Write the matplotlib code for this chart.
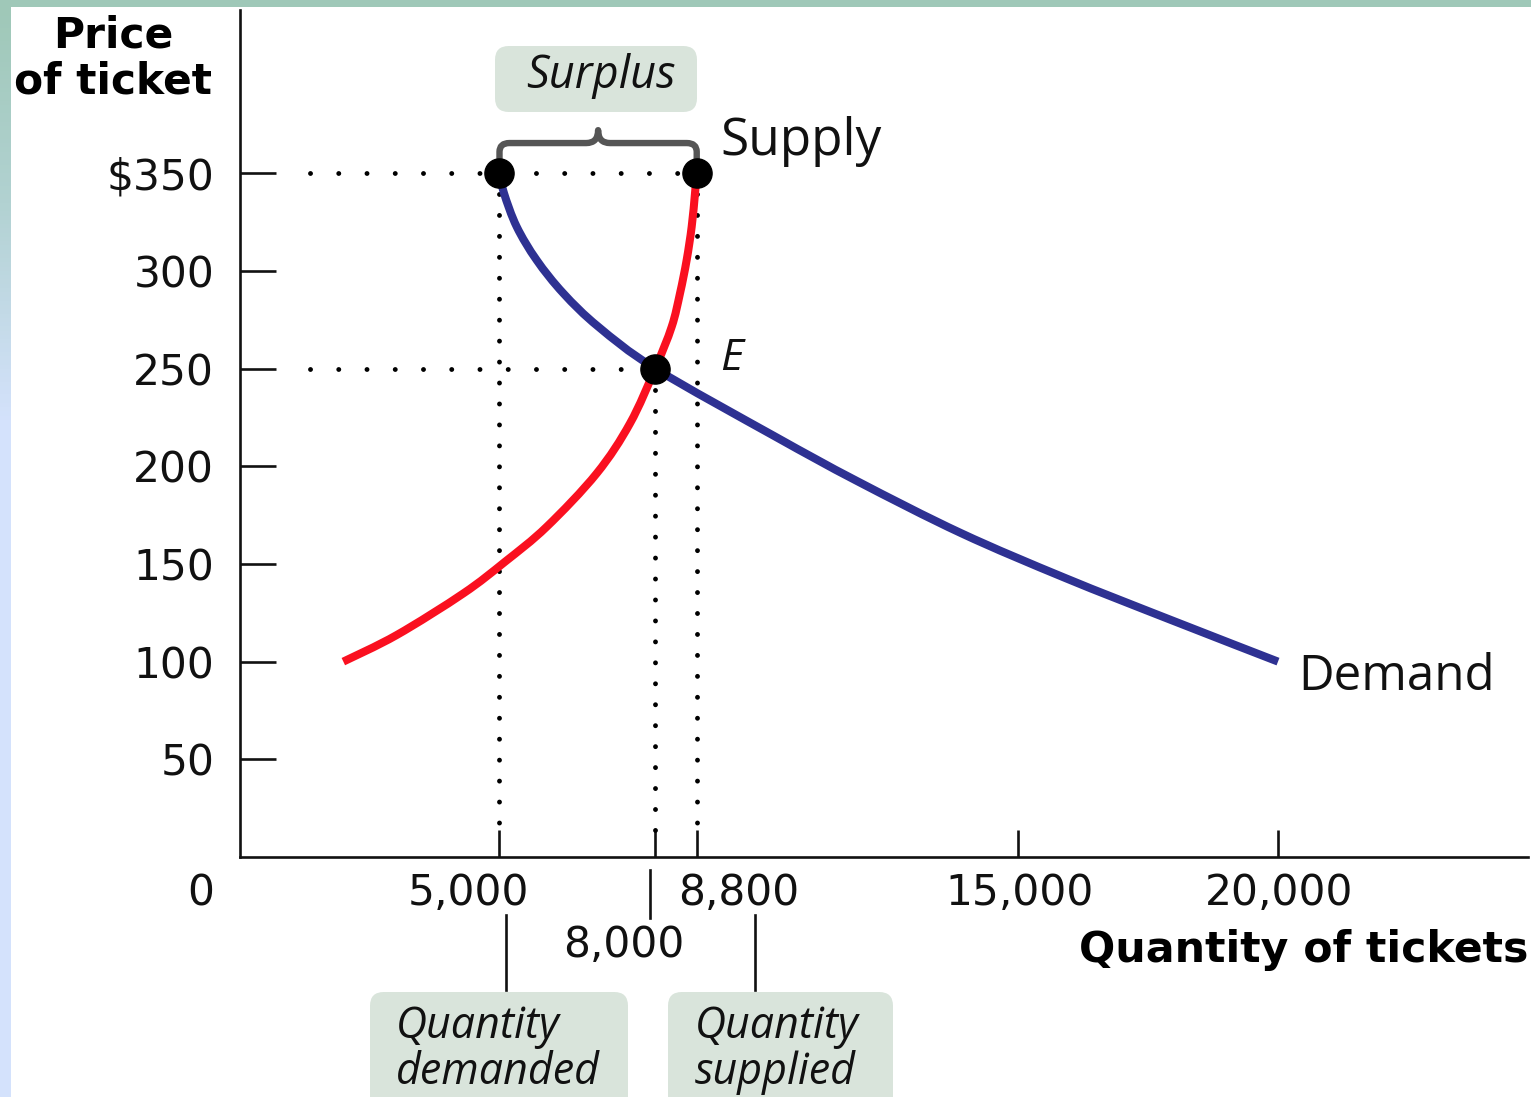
import numpy as np
import matplotlib
matplotlib.use("Agg")
import matplotlib.pyplot as plt
from matplotlib.patches import FancyBboxPatch, Rectangle, PathPatch
from matplotlib.path import Path
from matplotlib.lines import Line2D
from matplotlib.colors import LinearSegmentedColormap

# ---------------- data ----------------
demand_qty = [5000, 5087, 5331, 5716, 6230, 6904, 8000, 10290, 11890, 13890, 15900, 17920, 20000]
demand_price = [350, 339.7, 322.6, 305.5, 288.5, 271.4, 250, 215.5, 192.4, 165.8, 142.8, 121.5, 100]

supply_qty = [1991, 3019, 4303, 5106, 5909, 6872, 7514, 8000, 8318, 8478, 8606, 8703, 8767, 8800]
supply_price = [100, 113.6, 134.9, 151.1, 169.0, 196.3, 221.9, 250, 271.4, 288.5, 305.5, 322.6, 339.7, 350]

price_ticks = [50, 100, 150, 200, 250, 300, 350]
price_labels = ["50", "100", "150", "200", "250", "300", "$350"]
qty_ticks = [5000, 8000, 8800, 15000, 20000]

high_price = 350
eq_price = 250
eq_qty = 8000
qd_high = 5000
qs_high = 8800

# ---------------- figure ----------------
W, H = 1531, 1097
fig = plt.figure(figsize=(W / 100, H / 100), dpi=100)
fig.patch.set_facecolor("white")

def fx(x):
    return x / W

def fy(y):
    return 1 - y / H

# decorative border: top strip and left gradient strip
fig.patches.append(Rectangle((0, fy(7)), 1, 7 / H, transform=fig.transFigure,
                             facecolor="#9fc8b8", edgecolor="none", zorder=0))
bg = fig.add_axes([0, 0, fx(11), fy(7)])
cmap = LinearSegmentedColormap.from_list(
    "edge", [(0, "#9fc8b8"), (0.18, "#b2d2d2"), (0.38, "#d4e2fc"), (1, "#d4e2fc")])
bg.imshow(np.linspace(0, 1, 256)[:, None], aspect="auto", cmap=cmap, extent=[0, 1, 0, 1])
bg.set_axis_off()

# main axes
x0, y0 = 240, 857
x1, y1 = 1528, 10
ax = fig.add_axes([fx(x0), fy(y0), fx(x1) - fx(x0), fy(y1) - fy(y0)])
ax.set_facecolor("none")
ax.set_xlim(0, 24817)
ax.set_ylim(0, 433.5)
for s in ["top", "right"]:
    ax.spines[s].set_visible(False)
for s in ["left", "bottom"]:
    ax.spines[s].set_linewidth(1.9)
    ax.spines[s].set_color("#111111")

ax.set_yticks(price_ticks)
ax.set_yticklabels(price_labels)
ax.tick_params(axis="y", direction="in", length=26, width=1.9, color="#111111",
               pad=18.5, labelsize=30.5, labelcolor="#111111")
ax.set_xticks(qty_ticks)
ax.set_xticklabels([])
ax.tick_params(axis="x", direction="in", length=19.5, width=1.9, color="#111111")

# dotted guide lines
dot_h = dict(color="black", lw=3.5, linestyle=(0, (0.01, 5.8)), dash_capstyle="round", zorder=2)
dot_v = dict(color="black", lw=3.5, linestyle=(0, (0.01, 4.3)), dash_capstyle="round", zorder=2)
ax.plot([1350, qs_high], [high_price, high_price], **dot_h)
ax.plot([1350, eq_qty], [eq_price, eq_price], **dot_h)
ax.plot([qd_high, qd_high], [high_price, 14], **dot_v)
ax.plot([eq_qty, eq_qty], [eq_price, 14], **dot_v)
ax.plot([qs_high, qs_high], [high_price, 14], **dot_v)


# smooth curve through the read points (Catmull-Rom drawn as cubic Bezier in data coords)
def smooth_path(xs, ys):
    P = np.column_stack([xs, ys]).astype(float)
    n = len(P)
    verts = [tuple(P[0])]
    codes = [Path.MOVETO]
    for i in range(n - 1):
        p0 = P[i - 1] if i > 0 else P[i]
        p1 = P[i]
        p2 = P[i + 1]
        p3 = P[i + 2] if i + 2 < n else P[i + 1]
        c1 = p1 + (p2 - p0) / 6.0
        c2 = p2 - (p3 - p1) / 6.0
        verts += [tuple(c1), tuple(c2), tuple(p2)]
        codes += [Path.CURVE4] * 3
    return Path(verts, codes)


ax.add_patch(PathPatch(smooth_path(demand_qty, demand_price), facecolor="none",
                       edgecolor="#2e3192", lw=5.8, capstyle="butt", zorder=3))
ax.add_patch(PathPatch(smooth_path(supply_qty, supply_price), facecolor="none",
                       edgecolor="#fa1020", lw=5.8, capstyle="butt", zorder=3))

# points
ax.plot([qd_high, qs_high, eq_qty], [high_price, high_price, eq_price], "o", color="black",
        ms=21, zorder=6)

# brace
top = high_price + 15.4
tip = high_price + 22
mid = (qd_high + qs_high) / 2
verts = [(qd_high, high_price), (qd_high, top - 4.5), (qd_high, top), (qd_high + 190, top),
         (mid - 230, top), (mid, top), (mid, tip), (mid, top), (mid + 230, top),
         (qs_high - 190, top), (qs_high, top), (qs_high, top - 4.5), (qs_high, high_price)]
codes = [Path.MOVETO, Path.LINETO, Path.CURVE3, Path.CURVE3, Path.LINETO, Path.CURVE3, Path.CURVE3,
         Path.CURVE3, Path.CURVE3, Path.LINETO, Path.CURVE3, Path.CURVE3, Path.LINETO]
ax.add_patch(PathPatch(Path(verts, codes), facecolor="none", edgecolor="#555555", lw=4.6,
                       capstyle="round", joinstyle="round", zorder=4, clip_on=False))

# ---------------- texts ----------------
sans = "DejaVu Sans"
hum = "Open Sans"

def ftext(x, y, s, **kw):
    fig.text(fx(x), fy(y), s, **kw)

# axis titles
ftext(113, 48, "Price", ha="center", va="baseline", fontsize=30.5, fontweight="bold", family=sans)
ftext(113, 93, "of ticket", ha="center", va="baseline", fontsize=30.5, fontweight="bold", family=sans)
ftext(1528, 962, "Quantity of tickets", ha="right", va="baseline", fontsize=30.7, fontweight="bold",
      family=sans)

# x tick labels
xl = dict(ha="center", va="baseline", fontsize=30.5, family=sans, color="#111111")
ftext(201, 905, "0", **xl)
ftext(468, 905, "5,000", **xl)
ftext(739, 905, "8,800", **xl)
ftext(1020, 905, "15,000", **xl)
ftext(1279, 905, "20,000", **xl)
ftext(624, 957, "8,000", **xl)

# leader lines
for (lx, ya, yb) in [(506, 915, 990), (755, 915, 990), (650, 870, 918)]:
    fig.lines.append(Line2D([fx(lx), fx(lx)], [fy(ya), fy(yb)], transform=fig.transFigure,
                            color="#111111", lw=1.9))

# curve labels
ftext(720, 155, "Supply", ha="left", va="baseline", fontsize=37, family=hum, color="#111111")
ftext(1298, 690, "Demand", ha="left", va="baseline", fontsize=35.5, family=hum, color="#111111")
ftext(720, 370, "E", ha="left", va="baseline", fontsize=32, family=hum, style="italic",
      color="#111111")

# annotation boxes
box_color = "#d9e4db"

def box(xa, ya, xb, yb):
    fig.patches.append(FancyBboxPatch((fx(xa), fy(yb)), fx(xb) - fx(xa), fy(ya) - fy(yb),
                                      boxstyle="round,pad=0,rounding_size=0.009",
                                      transform=fig.transFigure, facecolor=box_color,
                                      edgecolor="none", zorder=1, mutation_aspect=W / H))

box(495, 46, 697, 112)
box(370, 992, 628, 1110)
box(668, 992, 893, 1110)

ital = dict(va="baseline", fontsize=31, family=hum, style="italic", color="#111111", zorder=5)
ftext(601, 88, "Surplus", ha="center", **dict(ital, fontsize=32.5))
ftext(396, 1038, "Quantity", ha="left", **ital)
ftext(396, 1084, "demanded", ha="left", **ital)
ftext(695, 1038, "Quantity", ha="left", **ital)
ftext(695, 1084, "supplied", ha="left", **ital)

fig.savefig("out.png", dpi=100, facecolor="white")
